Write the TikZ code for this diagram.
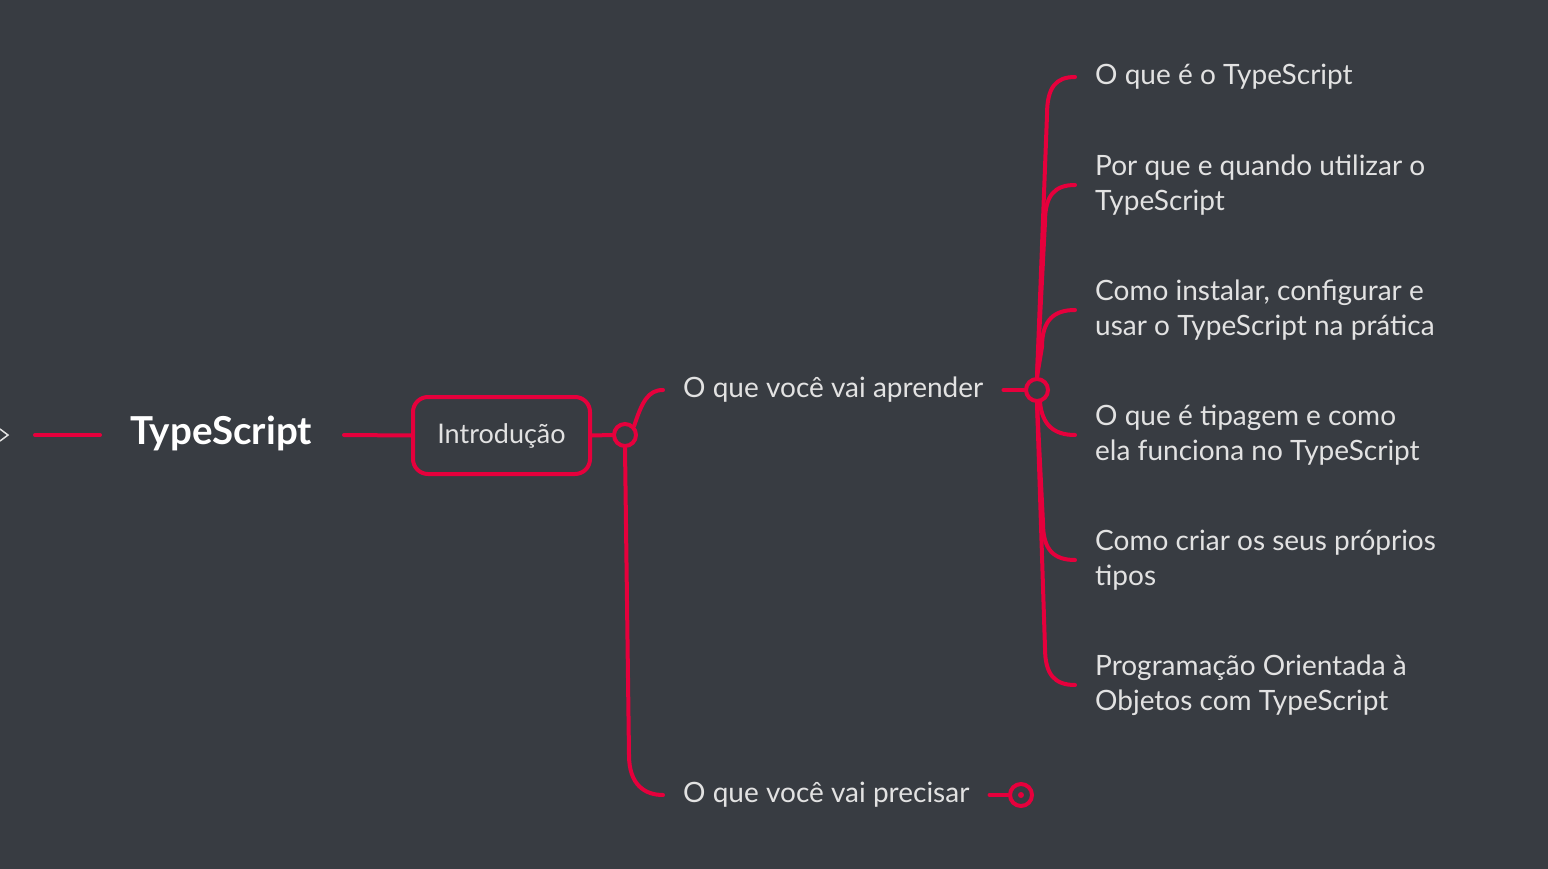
\documentclass[tikz,border=0pt]{standalone}
\usepackage{fontspec}
\setmainfont{Lato}
\definecolor{bg}{HTML}{383C42}
\definecolor{mmred}{HTML}{E6003C}
\definecolor{mmtext}{HTML}{E2E2E2}
\tikzset{
  branch/.style={draw=mmred, line width=4pt, line cap=round},
  root/.style={text=white, font=\bfseries\fontsize{38.5}{42}\selectfont},
  topic/.style={draw=mmred, line width=4pt, rounded corners=15pt, minimum width=177pt,
    minimum height=77pt, text=mmtext, font=\fontsize{27}{30}\selectfont},
  hub/.style={circle, draw=mmred, line width=4pt, minimum size=22pt, inner sep=0pt},
  sub/.style={anchor=west, inner xsep=20pt, inner ysep=0pt, text=mmtext,
    font=\fontsize{28}{32}\selectfont},
  leaf/.style={anchor=west, inner xsep=20pt, inner ysep=0pt, text=mmtext, align=left,
    font=\fontsize{28}{35}\selectfont}
}
\begin{document}
\begin{tikzpicture}[x=1pt, y=-1pt]
  \fill[bg] (0,0) rectangle (1548,869);
  \useasboundingbox (0,0) rectangle (1548,869);
  % left side
  \draw[mmtext, line width=1.5pt] (0,429) -- (8,435) -- (0,441);
  \coordinate (fromleft) at (35,435);
  \coordinate (toroot) at (100,435);
  \node[root] (ts) at (221,433) {TypeScript};
  \coordinate (fromroot) at (344,435);
  \node[topic] (intro) at (501.5,435.5) {Introdução};
  \draw[branch] (fromleft) -- (toroot);
  \draw[branch] (fromroot) -- (intro.west);
  % first hub
  \node[hub] (h1) at (625,435) {};
  \draw[branch] (intro.east) -- (h1.west);
  \node[sub] (learn) at (663,390) {O que você vai aprender};
  \node[sub] (need) at (663,795) {O que você vai precisar};
  \draw[branch] (h1.north east) .. controls (642,402) and (648,390) .. (learn.west);
  \draw[branch] (h1.south) -- (629,755) .. controls (629,785) and (645,795) .. (need.west);
  % second hub
  \node[hub] (h2) at (1037,390) {};
  \draw[branch] (learn.east) -- (h2.west);
  \node[leaf] (c1) at (1075,77) {O que é o TypeScript};
  \node[leaf] (c2) at (1075,185) {Por que e quando utilizar o\\TypeScript};
  \node[leaf] (c3) at (1075,310) {Como instalar, configurar e\\usar o TypeScript na prática};
  \node[leaf] (c4) at (1075,435) {O que é tipagem e como\\ela funciona no TypeScript};
  \node[leaf] (c5) at (1075,560) {Como criar os seus próprios\\tipos};
  \node[leaf] (c6) at (1075,685) {Programação Orientada à\\Objetos com TypeScript};
  \draw[branch] (h2.north) -- (1047,115) .. controls (1047,87) and (1056,77) .. (c1.west);
  \draw[branch] (h2.north) -- (1045,222) .. controls (1045,195) and (1055,185) .. (c2.west);
  \draw[branch] (h2.north) -- (1042,347) .. controls (1042,320) and (1054,310) .. (c3.west);
  \draw[branch] (h2.south) -- (1040,402) .. controls (1042,425) and (1054,435) .. (c4.west);
  \draw[branch] (h2.south) -- (1043,523) .. controls (1043,550) and (1054,560) .. (c5.west);
  \draw[branch] (h2.south) -- (1045,648) .. controls (1045,675) and (1055,685) .. (c6.west);
  % third hub
  \node[hub] (h3) at (1021,795) {};
  \fill[mmred] (h3.center) circle[radius=3];
  \draw[branch] (need.east) -- (h3.west);
\end{tikzpicture}
\end{document}
